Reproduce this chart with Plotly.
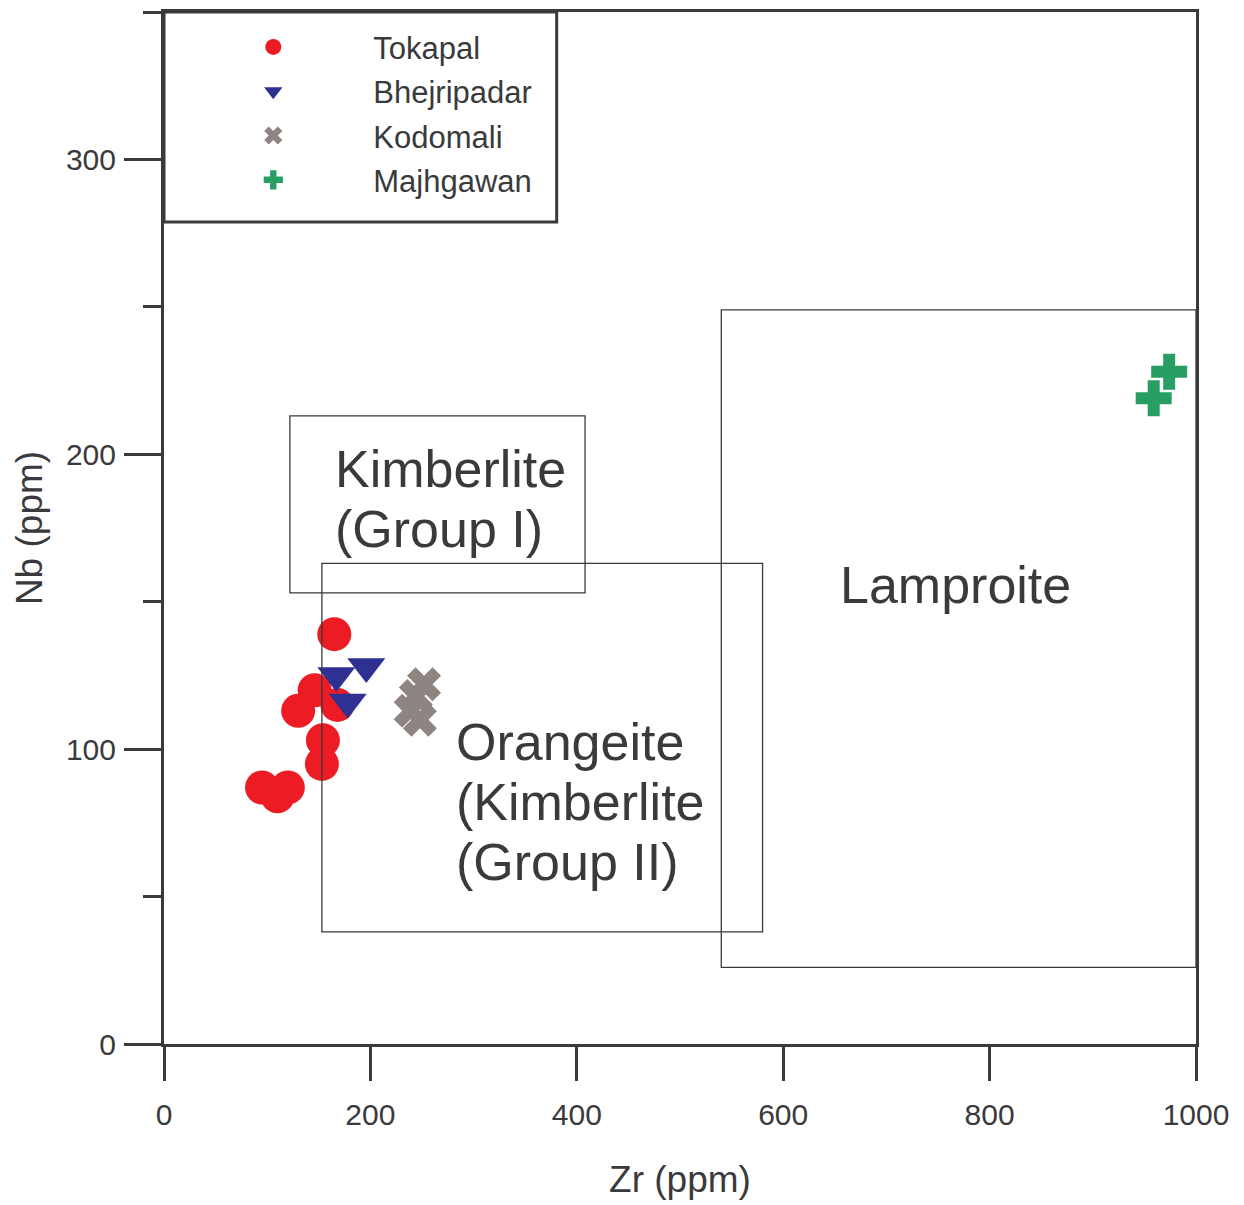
import plotly.graph_objects as go

# Sample groups: Zr vs Nb (ppm)
tokapal_zr = [165, 146, 130, 168, 154, 153, 95, 110, 120]
tokapal_nb = [139, 120, 113, 115, 103, 95, 87, 84, 87]

bhejripadar_zr = [196, 167, 178]
bhejripadar_nb = [128, 125, 116]

kodomali_zr = [252, 244, 248, 239]
kodomali_nb = [122, 118, 110, 113]

majhgawan_zr = [974, 959]
majhgawan_nb = [228, 219]

# Discrimination fields: (zr_min, zr_max), (nb_min, nb_max)
field_names = ["Kimberlite (Group I)", "Orangeite", "Lamproite"]
field_zr = [(122, 408), (153, 580), (540, 1000)]
field_nb = [(153, 213), (38, 163), (26, 249)]

# Field labels, one entry per line of text
label_lines = ["Kimberlite", "(Group I)", "Lamproite", "Orangeite", "(Kimberlite", "(Group II)"]
label_zr = [164, 164, 653, 281, 281, 281]
label_nb = [195, 174.8, 155.8, 102.5, 82.1, 61.8]

INK = "#3a3a3c"
FONT = "Liberation Sans, Arial, Helvetica, sans-serif"

fig = go.Figure()

series = [
    ("Tokapal", tokapal_zr, tokapal_nb, "circle", "#ed1c24", 34),
    ("Bhejripadar", bhejripadar_zr, bhejripadar_nb, "triangle-down", "#2e3192", 33),
    ("Kodomali", kodomali_zr, kodomali_nb, "x", "#8e8481", 30),
    ("Majhgawan", majhgawan_zr, majhgawan_nb, "cross", "#289e63", 30),
]
for name, xs, ys, sym, col, size in series:
    fig.add_trace(go.Scatter(
        x=xs, y=ys, mode="markers", name=name, legendgroup=name,
        marker=dict(symbol=sym, color=col, size=size, line=dict(width=0)),
        cliponaxis=False,
    ))

for (x0, x1), (y0, y1) in zip(field_zr, field_nb):
    fig.add_shape(type="rect", xref="x", yref="y", x0=x0, x1=x1, y0=y0, y1=y1,
                  line=dict(color=INK, width=1.3), layer="above")

for txt, xv, yv in zip(label_lines, label_zr, label_nb):
    fig.add_annotation(x=xv, y=yv, xref="x", yref="y", text=txt, showarrow=False,
                       xanchor="left", yanchor="middle",
                       font=dict(family=FONT, size=52, color=INK))

# Legend frame
fig.add_shape(type="rect", xref="paper", yref="paper", x0=0, x1=0.3805, y0=0.7965, y1=1,
              line=dict(color=INK, width=3), layer="above")

axis_common = dict(
    showgrid=False, zeroline=False, showline=True, linecolor=INK, linewidth=3,
    mirror=True, ticks="outside", tickcolor=INK, tickwidth=3,
    tickfont=dict(family=FONT, size=30, color=INK),
)

fig.update_xaxes(range=[0, 1000], dtick=200, tick0=0, ticklen=34,
                 ticklabelstandoff=8,
                 title=dict(text="Zr (ppm)", font=dict(family=FONT, size=37, color=INK), standoff=37),
                 **axis_common)
fig.update_yaxes(range=[0, 350], dtick=100, tick0=0, ticklen=37,
                 ticklabelstandoff=2,
                 minor=dict(dtick=50, tick0=0, ticks="outside", ticklen=18, tickwidth=3, tickcolor=INK),
                 title=dict(text="Nb (ppm)", font=dict(family=FONT, size=37, color=INK), standoff=12),
                 **axis_common)

fig.update_layout(
    width=1244, height=1205,
    margin=dict(l=164, r=48, t=12, b=161, autoexpand=False),
    plot_bgcolor="white", paper_bgcolor="white",
    showlegend=True,
    legend=dict(x=0.009, y=0.992, xanchor="left", yanchor="top",
                font=dict(family=FONT, size=31, color=INK),
                itemwidth=190, tracegroupgap=1, bgcolor="rgba(0,0,0,0)", borderwidth=0),
)

fig.write_html("out.html")
